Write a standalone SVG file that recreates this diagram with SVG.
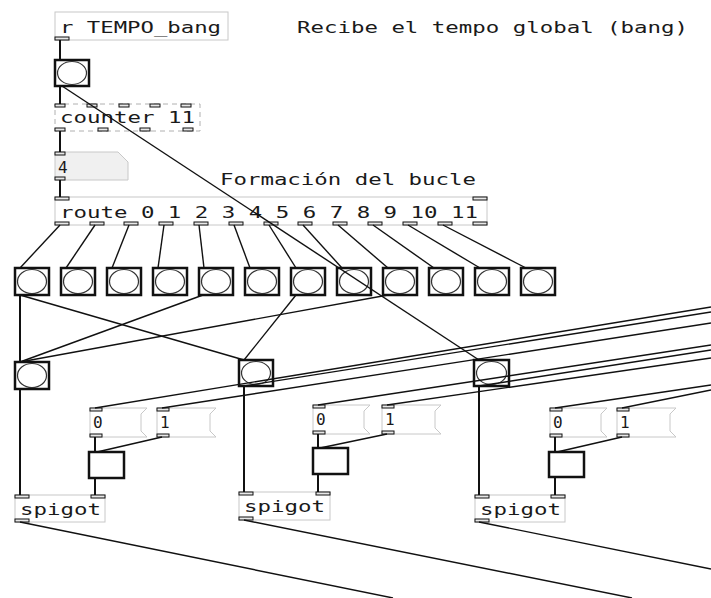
<svg xmlns="http://www.w3.org/2000/svg" width="711" height="598" viewBox="0 0 711 598">
<style>
.bg{fill:#fff}
.obj{fill:#fff;stroke:#c8c8c8;stroke-width:1}
.brk{fill:#fff;stroke:#b0b0b0;stroke-width:1;stroke-dasharray:5 4}
.num{fill:#f0f0f0;stroke:#c8c8c8;stroke-width:1}
.io{fill:#e8e8e8;stroke:#111;stroke-width:1}
.bng{fill:#fff;stroke:#111;stroke-width:2.5}
.circ{fill:none;stroke:#333;stroke-width:1.2}
.tgl{fill:#fff;stroke:#111;stroke-width:2.5}
.t{font-family:"DejaVu Sans Mono","Liberation Mono",monospace;font-size:16px;fill:#1a1a1a}
.c{stroke:#111;stroke-width:1.4;fill:none}
.cv{stroke:#111;stroke-width:2;fill:none}
</style>
<rect class="bg" x="0" y="0" width="711" height="598"/>
<g id="r_tempo">
<rect class="obj" x="55" y="12" width="173" height="28"/>
<rect class="io" x="55" y="37" width="14" height="3"/>
<text class="t" x="60" y="33" textLength="161" lengthAdjust="spacingAndGlyphs">r TEMPO_bang</text>
</g>
<g id="comment_tempo">
<text class="t" x="297" y="33" textLength="391" lengthAdjust="spacingAndGlyphs">Recibe el tempo global (bang)</text>
</g>
<g id="bang_top">
<rect class="bng" x="55" y="60" width="34" height="26"/>
<ellipse class="circ" cx="72" cy="73" rx="14.5" ry="11.5"/>
</g>
<g id="counter">
<rect class="brk" x="55" y="104" width="145" height="27"/>
<rect class="io" x="55" y="104" width="10" height="3"/>
<rect class="io" x="87" y="104" width="10" height="3"/>
<rect class="io" x="119" y="104" width="10" height="3"/>
<rect class="io" x="150" y="104" width="10" height="3"/>
<rect class="io" x="181" y="104" width="10" height="3"/>
<rect class="io" x="55" y="128" width="10" height="3"/>
<rect class="io" x="98" y="128" width="10" height="3"/>
<rect class="io" x="140" y="128" width="10" height="3"/>
<rect class="io" x="183" y="128" width="10" height="3"/>
<text class="t" x="60" y="123" textLength="135" lengthAdjust="spacingAndGlyphs">counter 11</text>
</g>
<g id="number">
<polygon class="num" points="55,152 118,152 128,162 128,180 55,180"/>
<rect class="io" x="55" y="152" width="10" height="3"/>
<rect class="io" x="55" y="177" width="10" height="3"/>
<text class="t" x="58" y="173">4</text>
</g>
<g id="comment_bucle">
<text class="t" x="220" y="185" textLength="256" lengthAdjust="spacingAndGlyphs">Formación del bucle</text>
</g>
<g id="route">
<rect class="obj" x="55" y="197" width="432" height="28"/>
<rect class="io" x="55" y="197" width="14" height="3"/>
<rect class="io" x="473" y="197" width="14" height="3"/>
<rect class="io" x="55" y="222" width="14" height="3"/>
<rect class="io" x="90" y="222" width="14" height="3"/>
<rect class="io" x="124" y="222" width="14" height="3"/>
<rect class="io" x="159" y="222" width="14" height="3"/>
<rect class="io" x="194" y="222" width="14" height="3"/>
<rect class="io" x="229" y="222" width="14" height="3"/>
<rect class="io" x="264" y="222" width="14" height="3"/>
<rect class="io" x="298" y="222" width="14" height="3"/>
<rect class="io" x="333" y="222" width="14" height="3"/>
<rect class="io" x="368" y="222" width="14" height="3"/>
<rect class="io" x="403" y="222" width="14" height="3"/>
<rect class="io" x="438" y="222" width="14" height="3"/>
<rect class="io" x="473" y="222" width="14" height="3"/>
<text class="t" x="60" y="218" textLength="418" lengthAdjust="spacingAndGlyphs">route 0 1 2 3 4 5 6 7 8 9 10 11</text>
</g>
<g id="bang_row">
<g id="b0"><rect class="bng" x="15" y="268" width="34" height="27"/><ellipse class="circ" cx="32" cy="281.5" rx="14.5" ry="12"/></g>
<g id="b1"><rect class="bng" x="61" y="268" width="34" height="27"/><ellipse class="circ" cx="78" cy="281.5" rx="14.5" ry="12"/></g>
<g id="b2"><rect class="bng" x="107" y="268" width="34" height="27"/><ellipse class="circ" cx="124" cy="281.5" rx="14.5" ry="12"/></g>
<g id="b3"><rect class="bng" x="153" y="268" width="34" height="27"/><ellipse class="circ" cx="170" cy="281.5" rx="14.5" ry="12"/></g>
<g id="b4"><rect class="bng" x="199" y="268" width="34" height="27"/><ellipse class="circ" cx="216" cy="281.5" rx="14.5" ry="12"/></g>
<g id="b5"><rect class="bng" x="245" y="268" width="34" height="27"/><ellipse class="circ" cx="262" cy="281.5" rx="14.5" ry="12"/></g>
<g id="b6"><rect class="bng" x="291" y="268" width="34" height="27"/><ellipse class="circ" cx="308" cy="281.5" rx="14.5" ry="12"/></g>
<g id="b7"><rect class="bng" x="337" y="268" width="34" height="27"/><ellipse class="circ" cx="354" cy="281.5" rx="14.5" ry="12"/></g>
<g id="b8"><rect class="bng" x="383" y="268" width="34" height="27"/><ellipse class="circ" cx="400" cy="281.5" rx="14.5" ry="12"/></g>
<g id="b9"><rect class="bng" x="429" y="268" width="34" height="27"/><ellipse class="circ" cx="446" cy="281.5" rx="14.5" ry="12"/></g>
<g id="b10"><rect class="bng" x="475" y="268" width="34" height="27"/><ellipse class="circ" cx="492" cy="281.5" rx="14.5" ry="12"/></g>
<g id="b11"><rect class="bng" x="521" y="268" width="34" height="27"/><ellipse class="circ" cx="538" cy="281.5" rx="14.5" ry="12"/></g>
</g>
<g id="group1">
<g id="bangA"><rect class="bng" x="15" y="362" width="34" height="27"/><ellipse class="circ" cx="32" cy="375.5" rx="14.5" ry="12"/></g>
<g id="msg0_1"><polygon class="obj" points="90,408 147,408 141,414 141,431 147,437 90,437"/><rect class="io" x="90" y="408" width="12" height="3"/><rect class="io" x="90" y="434" width="12" height="3"/><text class="t" x="93" y="428">0</text></g>
<g id="msg1_1"><polygon class="obj" points="157,408 216,408 210,414 210,431 216,437 157,437"/><rect class="io" x="157" y="408" width="12" height="3"/><rect class="io" x="157" y="434" width="12" height="3"/><text class="t" x="160" y="428">1</text></g>
<g id="tgl1"><rect class="tgl" x="89" y="452" width="35" height="26"/></g>
<g id="spigot1"><rect class="obj" x="15" y="495" width="90" height="27"/><rect class="io" x="15" y="495" width="14" height="3"/><rect class="io" x="91" y="495" width="14" height="3"/><rect class="io" x="15" y="519" width="14" height="3"/><text class="t" x="20" y="515" textLength="81" lengthAdjust="spacingAndGlyphs">spigot</text></g>
</g>
<g id="group2">
<g id="bangB"><rect class="bng" x="239" y="360" width="34" height="26"/><ellipse class="circ" cx="256" cy="373" rx="14.5" ry="11.5"/></g>
<g id="msg0_2"><polygon class="obj" points="313,405 370,405 364,411 364,428 370,434 313,434"/><rect class="io" x="313" y="405" width="12" height="3"/><rect class="io" x="313" y="431" width="12" height="3"/><text class="t" x="316" y="425">0</text></g>
<g id="msg1_2"><polygon class="obj" points="382,405 441,405 435,411 435,428 441,434 382,434"/><rect class="io" x="382" y="405" width="12" height="3"/><rect class="io" x="382" y="431" width="12" height="3"/><text class="t" x="385" y="425">1</text></g>
<g id="tgl2"><rect class="tgl" x="313" y="448" width="35" height="26"/></g>
<g id="spigot2"><rect class="obj" x="239" y="492" width="91" height="28"/><rect class="io" x="239" y="492" width="14" height="3"/><rect class="io" x="316" y="492" width="14" height="3"/><rect class="io" x="239" y="517" width="14" height="3"/><text class="t" x="244" y="512" textLength="81" lengthAdjust="spacingAndGlyphs">spigot</text></g>
</g>
<g id="group3">
<g id="bangC"><rect class="bng" x="474" y="360" width="35" height="26"/><ellipse class="circ" cx="491.5" cy="373" rx="15" ry="11.5"/></g>
<g id="msg0_3"><polygon class="obj" points="550,408 607,408 601,414 601,431 607,437 550,437"/><rect class="io" x="550" y="408" width="12" height="3"/><rect class="io" x="550" y="434" width="12" height="3"/><text class="t" x="553" y="428">0</text></g>
<g id="msg1_3"><polygon class="obj" points="617,408 676,408 670,414 670,431 676,437 617,437"/><rect class="io" x="617" y="408" width="12" height="3"/><rect class="io" x="617" y="434" width="12" height="3"/><text class="t" x="620" y="428">1</text></g>
<g id="tgl3"><rect class="tgl" x="549" y="452" width="35" height="25"/></g>
<g id="spigot3"><rect class="obj" x="475" y="495" width="90" height="27"/><rect class="io" x="475" y="495" width="14" height="3"/><rect class="io" x="551" y="495" width="14" height="3"/><rect class="io" x="475" y="519" width="14" height="3"/><text class="t" x="480" y="515" textLength="81" lengthAdjust="spacingAndGlyphs">spigot</text></g>
</g>
<g id="connectors">
<line class="cv" x1="60" y1="40" x2="60" y2="60"/>
<line class="cv" x1="60" y1="86" x2="60" y2="104"/>
<line class="c" x1="62" y1="86" x2="479" y2="360"/>
<line class="cv" x1="60" y1="131" x2="60" y2="152"/>
<line class="cv" x1="60" y1="180" x2="60" y2="197"/>
<line class="c" x1="60" y1="225" x2="20" y2="268"/>
<line class="c" x1="95" y1="225" x2="66" y2="268"/>
<line class="c" x1="129" y1="225" x2="112" y2="268"/>
<line class="c" x1="164" y1="225" x2="158" y2="268"/>
<line class="c" x1="199" y1="225" x2="204" y2="268"/>
<line class="c" x1="234" y1="225" x2="250" y2="268"/>
<line class="c" x1="269" y1="225" x2="296" y2="268"/>
<line class="c" x1="303" y1="225" x2="342" y2="268"/>
<line class="c" x1="338" y1="225" x2="388" y2="268"/>
<line class="c" x1="373" y1="225" x2="434" y2="268"/>
<line class="c" x1="408" y1="225" x2="480" y2="268"/>
<line class="c" x1="443" y1="225" x2="526" y2="268"/>
<line class="cv" x1="20" y1="295" x2="20" y2="362"/>
<line class="c" x1="20" y1="295" x2="244" y2="360"/>
<line class="c" x1="203" y1="295" x2="20" y2="362"/>
<line class="c" x1="296" y1="295" x2="244" y2="360"/>
<line class="c" x1="388" y1="295" x2="20" y2="362"/>
<line class="cv" x1="20" y1="389" x2="20" y2="495"/>
<line class="cv" x1="95" y1="437" x2="95" y2="452"/>
<line class="c" x1="162" y1="437" x2="97" y2="452"/>
<line class="cv" x1="95" y1="478" x2="95" y2="495"/>
<line class="cv" x1="244" y1="386" x2="244" y2="492"/>
<line class="cv" x1="318" y1="434" x2="318" y2="448"/>
<line class="c" x1="387" y1="434" x2="320" y2="448"/>
<line class="cv" x1="318" y1="474" x2="318" y2="492"/>
<line class="cv" x1="479" y1="386" x2="479" y2="495"/>
<line class="cv" x1="555" y1="437" x2="555" y2="452"/>
<line class="c" x1="622" y1="437" x2="557" y2="452"/>
<line class="cv" x1="555" y1="477" x2="555" y2="495"/>
<line class="c" x1="95" y1="408" x2="711" y2="307"/>
<line class="c" x1="244" y1="386" x2="711" y2="312"/>
<line class="c" x1="162" y1="408" x2="711" y2="323"/>
<line class="c" x1="318" y1="405" x2="711" y2="345"/>
<line class="c" x1="479" y1="386" x2="711" y2="350"/>
<line class="c" x1="387" y1="405" x2="711" y2="358"/>
<line class="c" x1="555" y1="408" x2="711" y2="385"/>
<line class="c" x1="622" y1="408" x2="711" y2="390"/>
<line class="c" x1="20" y1="522" x2="393" y2="598"/>
<line class="c" x1="244" y1="520" x2="632" y2="598"/>
<line class="c" x1="479" y1="522" x2="711" y2="569"/>
</g>
</svg>
